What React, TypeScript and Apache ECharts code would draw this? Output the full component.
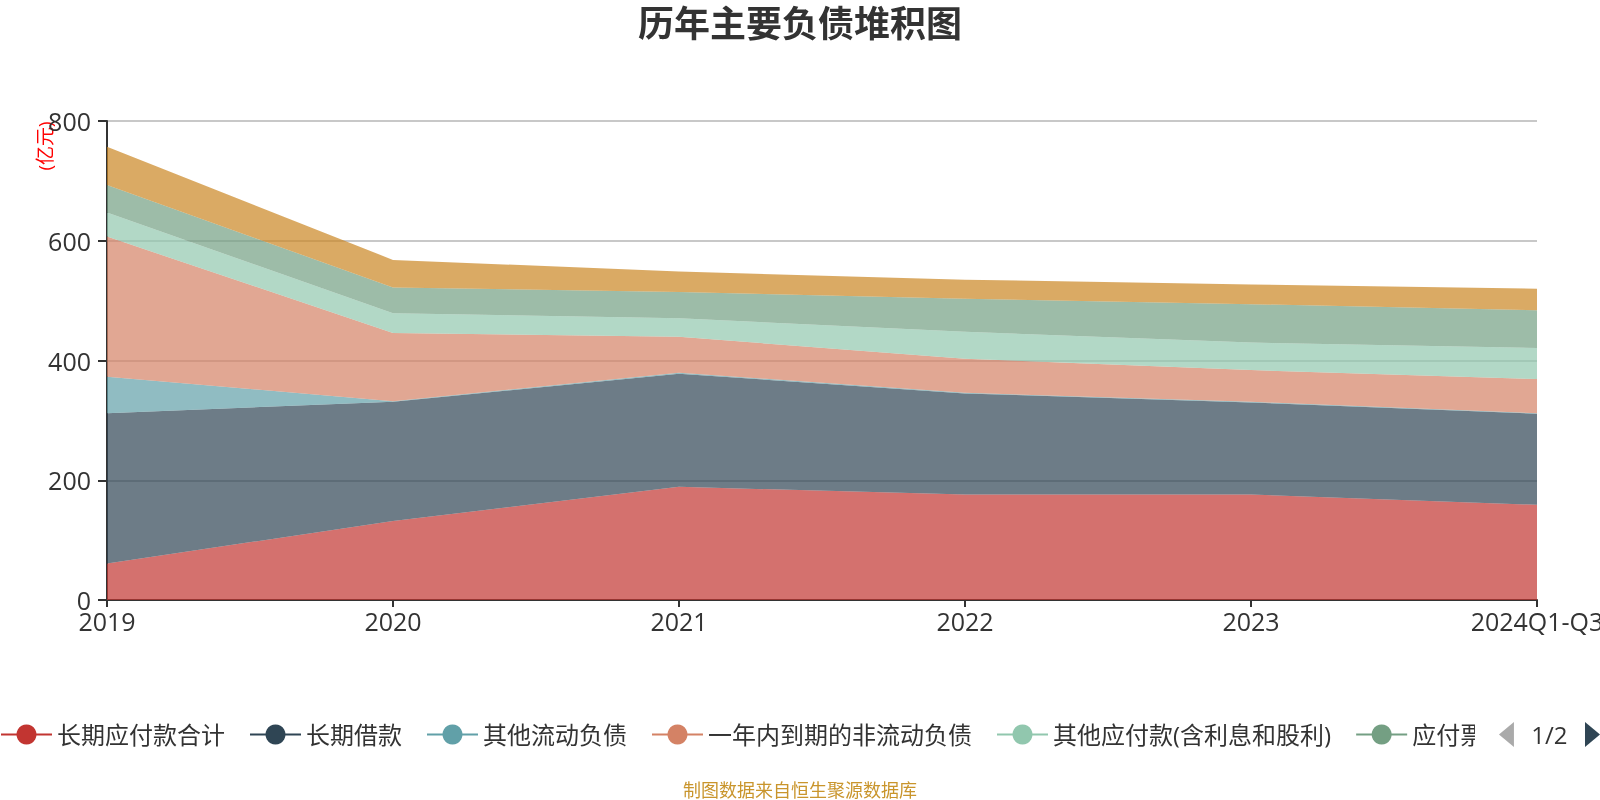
import React, { useEffect, useRef } from "react";
import * as echarts from "echarts";

const categories = ["2019", "2020", "2021", "2022", "2023", "2024Q1-Q3"];
const seriesNames = [
  "长期应付款合计",
  "长期借款",
  "其他流动负债",
  "一年内到期的非流动负债",
  "其他应付款(含利息和股利)",
  "应付票据",
  "应付账款",
];
const longTermPayables = [61, 132, 189, 176, 176, 159];
const longTermLoans = [251, 199, 189, 169, 154, 152];
const otherCurrentLiabilities = [61, 1, 1.5, 1, 1, 1];
const nonCurrentDueWithinYear = [234, 114, 60, 57, 53, 57];
const otherPayables = [40, 33, 31, 45, 46, 52];
const notesPayable = [46, 43, 44, 55, 64, 63];
const accountsPayable = [64, 46, 34, 32, 33, 36];
const seriesValues = [
  longTermPayables,
  longTermLoans,
  otherCurrentLiabilities,
  nonCurrentDueWithinYear,
  otherPayables,
  notesPayable,
  accountsPayable,
];
const colors = ["#c23531", "#2f4554", "#61a0a8", "#d48265", "#91c7ae", "#749f83", "#ca8622"];
const yTicks = { min: 0, max: 800, interval: 200 };

const FONT = "'Open Sans', 'Noto Sans CJK SC', sans-serif";

export default function App() {
  const ref = useRef<HTMLDivElement>(null);
  useEffect(() => {
    if (!ref.current) return;
    const chart = echarts.init(ref.current, undefined, { renderer: "svg" });
    chart.setOption({
      animation: false,
      color: colors,
      textStyle: { fontFamily: FONT },
      title: {
        text: "历年主要负债堆积图",
        left: "center",
        top: 5,
        padding: 0,
        textStyle: { fontSize: 36, fontWeight: "bold", color: "#333", fontFamily: FONT },
      },
      graphic: [
        {
          type: "text",
          x: 45,
          y: 146,
          rotation: Math.PI / 2,
          style: {
            text: "(亿元)",
            fill: "#ff0000",
            fontSize: 19,
            fontFamily: FONT,
            align: "center",
            verticalAlign: "middle",
          },
        },
        {
          type: "text",
          x: 800,
          y: 790,
          style: {
            text: "制图数据来自恒生聚源数据库",
            fill: "#c9952c",
            fontSize: 18,
            fontFamily: FONT,
            align: "center",
            verticalAlign: "middle",
          },
        },
      ],
      legend: {
        type: "scroll",
        left: 0,
        right: 3,
        top: 722,
        padding: 0,
        itemWidth: 51,
        itemHeight: 25,
        itemGap: 24,
        textStyle: { fontSize: 24, color: "#333", fontFamily: FONT },
        lineStyle: { width: 2, opacity: 1 },
        pageIconSize: [15, 27],
        pageIconColor: "#2f4554",
        pageIconInactiveColor: "#aaa",
        pageButtonItemGap: 6,
        pageTextStyle: { fontSize: 24, color: "#333", fontFamily: FONT },
        data: seriesNames,
      },
      grid: {
        left: 107,
        right: 63,
        top: 121,
        bottom: 200,
        containLabel: false,
        outerBoundsMode: "none",
      },
      xAxis: {
        type: "category",
        boundaryGap: false,
        data: categories,
        axisLine: { lineStyle: { color: "#333", width: 2 } },
        axisTick: { length: 7, lineStyle: { width: 2 } },
        axisLabel: { fontSize: 25, color: "#333", margin: 8, fontFamily: FONT },
      },
      yAxis: {
        type: "value",
        min: yTicks.min,
        max: yTicks.max,
        interval: yTicks.interval,
        axisLine: { show: true, lineStyle: { color: "#333", width: 2 } },
        axisTick: { show: true, length: 9, lineStyle: { width: 2 } },
        axisLabel: { fontSize: 25, color: "#333", margin: 16, fontFamily: FONT },
        splitLine: { lineStyle: { color: "#c8c8c8", width: 2 } },
      },
      series: seriesNames.map((name, i) => ({
        name,
        type: "line",
        stack: "total",
        data: seriesValues[i],
        symbol: "circle",
        showSymbol: false,
        lineStyle: { width: 1, opacity: 0 },
        areaStyle: { opacity: 0.7, color: colors[i] },
        itemStyle: { color: colors[i] },
      })),
    });
    return () => chart.dispose();
  }, []);
  return (
    <div
      ref={ref}
      style={{ position: "fixed", left: 0, top: 0, width: 1600, height: 800 }}
    />
  );
}
